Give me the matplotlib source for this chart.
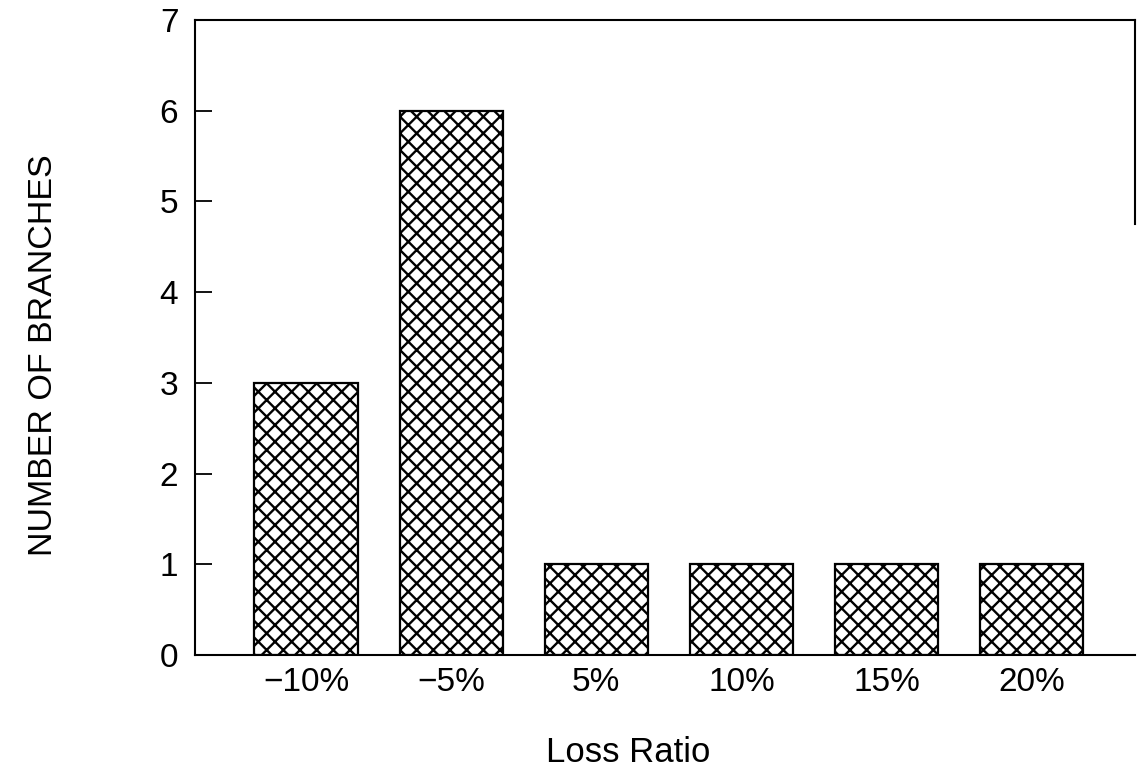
import matplotlib
matplotlib.use("Agg")
import matplotlib.pyplot as plt

categories = ["\u221210%", "\u22125%", "5%", "10%", "15%", "20%"]
counts = [3, 6, 1, 1, 1, 1]
yticks = [0, 1, 2, 3, 4, 5, 6, 7]

plt.rcParams['font.family'] = ['Liberation Sans', 'DejaVu Sans']
plt.rcParams['hatch.linewidth'] = 1.7

fig = plt.figure(figsize=(11.37, 7.71), dpi=100)
ax = fig.add_axes([0.1715, 0.1505, 0.8265, 0.8235])

x = list(range(len(categories)))
ax.bar(x, counts, width=0.71, color='white', edgecolor='black',
       linewidth=1.6, hatch='xx')

ax.set_xlim(-0.765, 5.71)
ax.set_ylim(0, 7)
ax.set_xticks(x)
ax.set_xticklabels(categories, fontsize=24)
ax.set_yticks(yticks)
ax.set_yticklabels([str(v) for v in yticks], fontsize=24)
ax.tick_params(axis='x', length=0, pad=9)
ax.tick_params(axis='y', direction='in', length=12, width=1.3, pad=12)
for s in ['left', 'bottom', 'top', 'right']:
    ax.spines[s].set_linewidth(1.5)
ax.spines['right'].set_bounds(4.75, 7)

ax.set_xlabel("Loss Ratio", fontsize=25)
ax.xaxis.set_label_coords(0.461, -0.128)
ax.set_ylabel("NUMBER OF BRANCHES", fontsize=24.5)
ax.yaxis.set_label_coords(-0.145, 0.472)

fig.savefig("out.png", dpi=100)
